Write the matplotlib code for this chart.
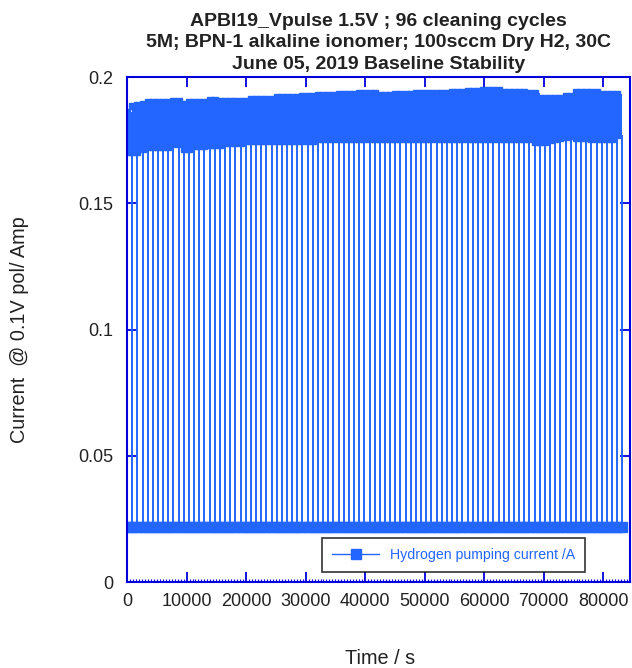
import matplotlib.pyplot as plt
from matplotlib.ticker import MultipleLocator, FixedLocator
from matplotlib.lines import Line2D

plt.rcParams["font.family"] = ["Liberation Sans", "DejaVu Sans"]

# cycle boundaries (s), 96 cleaning cycles
cycle_edges_s = [
    0, 867, 1733, 2600, 3467, 4333, 5200, 6067, 6933, 7800, 8667, 9533,
    10400, 11267, 12133, 13000, 13867, 14733, 15600, 16467, 17333, 18200,
    19067, 19933, 20800, 21667, 22533, 23400, 24267, 25133, 26000, 26867,
    27733, 28600, 29467, 30333, 31200, 32067, 32933, 33800, 34667, 35533,
    36400, 37267, 38133, 39000, 39867, 40733, 41600, 42467, 43333, 44200,
    45067, 45933, 46800, 47667, 48533, 49400, 50267, 51133, 52000, 52867,
    53733, 54600, 55467, 56333, 57200, 58067, 58933, 59800, 60667, 61533,
    62400, 63267, 64133, 65000, 65867, 66733, 67600, 68467, 69333, 70200,
    71067, 71933, 72800, 73667, 74533, 75400, 76267, 77133, 78000, 78867,
    79733, 80600, 81467, 82333, 83200,
]

# highest current reached in each cycle (A)
cycle_top_a = [
    0.1860, 0.1885, 0.1889, 0.1893, 0.1901, 0.1901, 0.1901, 0.1901, 0.1901,
    0.1905, 0.1905, 0.1893, 0.1901, 0.1901, 0.1901, 0.1901, 0.1909, 0.1909,
    0.1905, 0.1905, 0.1905, 0.1905, 0.1905, 0.1905, 0.1913, 0.1913, 0.1913,
    0.1913, 0.1913, 0.1921, 0.1921, 0.1921, 0.1921, 0.1921, 0.1925, 0.1925,
    0.1925, 0.1929, 0.1929, 0.1929, 0.1929, 0.1933, 0.1933, 0.1933, 0.1933,
    0.1937, 0.1937, 0.1937, 0.1937, 0.1929, 0.1929, 0.1929, 0.1933, 0.1933,
    0.1933, 0.1933, 0.1937, 0.1937, 0.1937, 0.1937, 0.1937, 0.1937, 0.1937,
    0.1941, 0.1941, 0.1941, 0.1945, 0.1945, 0.1945, 0.1949, 0.1949, 0.1949,
    0.1949, 0.1941, 0.1941, 0.1941, 0.1941, 0.1941, 0.1937, 0.1937, 0.1917,
    0.1917, 0.1917, 0.1917, 0.1917, 0.1925, 0.1925, 0.1941, 0.1941, 0.1941,
    0.1941, 0.1941, 0.1933, 0.1933, 0.1933, 0.1933,
]

# lowest current in the pumping phase of each cycle (A)
cycle_bottom_a = [
    0.1703, 0.1703, 0.1703, 0.1715, 0.1723, 0.1723, 0.1723, 0.1723, 0.1723,
    0.1735, 0.1735, 0.1715, 0.1715, 0.1727, 0.1727, 0.1727, 0.1731, 0.1731,
    0.1731, 0.1739, 0.1739, 0.1739, 0.1739, 0.1747, 0.1747, 0.1747, 0.1747,
    0.1747, 0.1747, 0.1747, 0.1747, 0.1747, 0.1747, 0.1747, 0.1747, 0.1747,
    0.1747, 0.1754, 0.1754, 0.1754, 0.1754, 0.1754, 0.1754, 0.1754, 0.1754,
    0.1754, 0.1754, 0.1754, 0.1754, 0.1754, 0.1754, 0.1754, 0.1754, 0.1754,
    0.1754, 0.1754, 0.1754, 0.1754, 0.1754, 0.1754, 0.1754, 0.1754, 0.1754,
    0.1754, 0.1754, 0.1754, 0.1754, 0.1754, 0.1754, 0.1754, 0.1754, 0.1754,
    0.1754, 0.1754, 0.1754, 0.1754, 0.1754, 0.1754, 0.1754, 0.1743, 0.1743,
    0.1743, 0.1750, 0.1754, 0.1758, 0.1762, 0.1766, 0.1758, 0.1758, 0.1758,
    0.1754, 0.1754, 0.1754, 0.1754, 0.1754, 0.1770,
]

# current during the cleaning pulse (A)
low_current_a = 0.0218

xticks = [0, 10000, 20000, 30000, 40000, 50000, 60000, 70000, 80000]
yticks = [0, 0.05, 0.1, 0.15, 0.2]
ytick_labels = ["0", "0.05", "0.1", "0.15", "0.2"]

blue = "#2266ff"
axis_blue = "#0000dd"
text_col = "#222222"

fig = plt.figure(figsize=(6.32, 6.68), dpi=100)
ax = fig.add_axes([0.201, 0.1287, 0.796, 0.756])

# pumping phase band
ax.fill_between(cycle_edges_s, cycle_top_a + [cycle_top_a[-1]],
                cycle_bottom_a + [cycle_bottom_a[-1]], step="post",
                color=blue, linewidth=0)
ax.plot(cycle_edges_s[:-1], cycle_top_a, "s", color=blue, ms=4)
ax.plot(cycle_edges_s[:-1], cycle_bottom_a, "s", color=blue, ms=4)

# drops to the cleaning pulse
ax.vlines(cycle_edges_s, low_current_a,
          [cycle_bottom_a[0]] + cycle_bottom_a, color=blue, lw=1.4)
ax.plot(cycle_edges_s, [low_current_a] * len(cycle_edges_s), "s",
        color=blue, ms=7)

ax.set_xlim(0, 84500)
ax.set_ylim(0, 0.2)
ax.xaxis.set_major_locator(FixedLocator(xticks))
ax.xaxis.set_minor_locator(MultipleLocator(500))
ax.yaxis.set_major_locator(FixedLocator(yticks))
ax.set_yticklabels(ytick_labels)
ax.set_xticklabels([str(v) for v in xticks])

for sp in ax.spines.values():
    sp.set_color(axis_blue)
    sp.set_linewidth(1.5)
ax.tick_params(which="major", direction="in", length=7, width=1.3,
               color=axis_blue, top=True, right=True,
               labelsize=13, labelcolor=text_col)
ax.tick_params(axis="x", which="major", pad=8)
ax.tick_params(axis="y", which="major", pad=10)
ax.tick_params(axis="x", which="minor", direction="in", length=2.5,
               width=0.8, color=axis_blue, top=False)

ax.set_title("APBI19_Vpulse 1.5V ; 96 cleaning cycles\n"
             "5M; BPN-1 alkaline ionomer; 100sccm Dry H2, 30C\n"
             "June 05, 2019 Baseline Stability",
             fontsize=14, fontweight="bold", color=text_col,
             linespacing=1.35, pad=6)
ax.set_xlabel("Time / s", fontsize=14.3, color=text_col)
ax.set_ylabel("Current  @ 0.1V pol/ Amp", fontsize=14.3, color=text_col)
ax.xaxis.set_label_coords(0.503, -0.133)
ax.yaxis.set_label_coords(-0.195, 0.5)

handle = Line2D([], [], color=blue, marker="s", ms=7, lw=1)
leg = ax.legend([handle], ["Hydrogen pumping current /A"], loc="lower right",
                bbox_to_anchor=(0.911, 0.02), borderaxespad=0,
                fontsize=10.2, handlelength=3.3,
                frameon=True, fancybox=False, borderpad=0.7,
                labelcolor=blue)
leg.get_frame().set_edgecolor("black")
leg.get_frame().set_linewidth(1.2)

plt.savefig("out.png", dpi=100)
